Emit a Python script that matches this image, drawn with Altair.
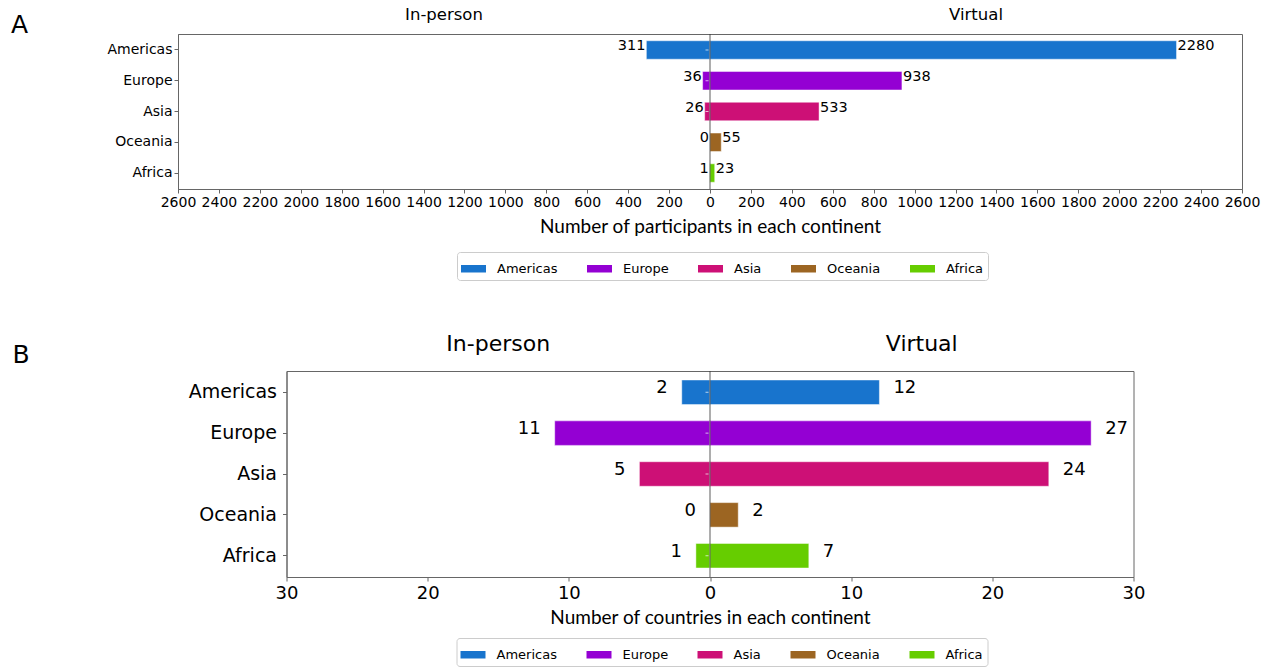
import altair as alt
import pandas as pd

# Continents in display order and their bar colours
continents = ["Americas", "Europe", "Asia", "Oceania", "Africa"]
continent_colors = ["#1874CD", "#9400D3", "#CD1076", "#9C6522", "#66CD00"]

# Panel A: participants per continent
participants_in_person = [311, 36, 26, 0, 1]
participants_virtual = [2280, 938, 533, 55, 23]

# Panel B: countries per continent
countries_in_person = [2, 11, 5, 0, 1]
countries_virtual = [12, 27, 24, 2, 7]

mode_titles = ["In-person", "Virtual"]
participant_ticks = list(range(-2600, 2601, 200))
country_ticks = list(range(-30, 31, 10))

FRAME = "#666666"


def long_table(in_person, virtual):
    rows = []
    for name, a, b in zip(continents, in_person, virtual):
        rows.append({"continent": name, "mode": "In-person", "count": a, "pos": -a})
        rows.append({"continent": name, "mode": "Virtual", "count": b, "pos": b})
    return pd.DataFrame(rows)


def panel(df, limit, ticks, x_title, letter, st):
    color = alt.Color(
        "continent:N",
        scale=alt.Scale(domain=continents, range=continent_colors),
        legend=alt.Legend(
            orient="none", legendX=st["legend_x"], legendY=st["legend_y"],
            direction="horizontal", title=None,
            symbolType="M-1,-0.3H1V0.3H-1Z", symbolSize=625,
            symbolStrokeWidth=0, symbolOpacity=1,
            labelFont="DejaVu Sans", labelFontSize=13, labelColor="black",
            labelOffset=11, columnPadding=29, padding=4,
            strokeColor="#cccccc", fillColor="white", cornerRadius=3,
        ),
        sort=continents,
    )
    y = alt.Y(
        "continent:N", sort=continents,
        scale=alt.Scale(paddingInner=0.4, paddingOuter=0.22),
        axis=alt.Axis(
            title=None, labelFont="DejaVu Sans", labelFontSize=st["ylab"],
            labelColor="black", tickColor=FRAME, tickSize=4,
            labelPadding=st["ylab_pad"], domainColor=FRAME,
        ),
    )
    x = alt.X(
        "pos:Q",
        scale=alt.Scale(domain=[-limit, limit], nice=False),
        axis=alt.Axis(
            values=ticks, labelExpr="abs(datum.value)", grid=False,
            labelFont="DejaVu Sans", labelFontSize=st["xlab"], labelColor="black",
            labelFlush=False, labelOverlap=False, labelPadding=st["lab_pad"],
            tickColor=FRAME, tickSize=4, domainColor=FRAME,
            title=x_title, titleFont="Lato", titleFontSize=st["title_size"],
            titleFontWeight="normal", titleColor="black",
            titlePadding=st["title_pad"],
        ),
    )

    base = alt.Chart(df)
    bars = base.mark_bar(stroke="white", strokeOpacity=0.45, strokeWidth=1).encode(
        x=x, y=y, color=color
    )
    left_labels = base.transform_filter(alt.datum.mode == "In-person").mark_text(
        align="right", baseline="alphabetic", dx=-st["label_dx"], dy=st["label_dy"],
        font="DejaVu Sans", fontSize=st["val"], color="black",
    ).encode(x="pos:Q", y=alt.Y("continent:N", sort=continents), text="count:Q")
    right_labels = base.transform_filter(alt.datum.mode == "Virtual").mark_text(
        align="left", baseline="alphabetic", dx=st["label_dx"], dy=st["label_dy"],
        font="DejaVu Sans", fontSize=st["val"], color="black",
    ).encode(x="pos:Q", y=alt.Y("continent:N", sort=continents), text="count:Q")

    dashes = base.transform_filter(alt.datum.mode == "Virtual").mark_tick(
        orient="horizontal", color="white", size=3, thickness=1, xOffset=-3
    ).encode(x=alt.datum(0), y=alt.Y("continent:N", sort=continents))

    zero = alt.Chart(pd.DataFrame({"pos": [0]})).mark_rule(
        color="#333333", opacity=0.8, strokeWidth=1
    ).encode(x="pos:Q")

    heads = alt.Chart(
        pd.DataFrame({"pos": [-limit / 2, limit / 2], "label": mode_titles})
    ).mark_text(
        baseline="alphabetic", font="DejaVu Sans", fontSize=st["head"], color="black"
    ).encode(x="pos:Q", y=alt.value(st["head_y"]), text="label:N")

    tag = alt.Chart(pd.DataFrame({"tag": [letter]})).mark_text(
        align="left", baseline="alphabetic", font="DejaVu Sans",
        fontSize=25, color="black",
    ).encode(x=alt.value(st["tag_x"]), y=alt.value(st["tag_y"]), text="tag:N")

    return alt.layer(bars, zero, dashes, left_labels, right_labels, heads, tag).properties(
        width=st["w"], height=st["h"]
    )


panel_a = panel(
    long_table(participants_in_person, participants_virtual), 2600,
    participant_ticks, "Number of participants in each continent", "A",
    dict(w=1064, h=155, ylab=14, ylab_pad=2, xlab=14, val=14.5, head=16.5,
         head_y=-14.5, label_dx=1, label_dy=0, lab_pad=2, title_size=19,
         title_pad=8, legend_x=279, legend_y=218, tag_x=-167, tag_y=-1),
)
panel_b = panel(
    long_table(countries_in_person, countries_virtual), 30,
    country_ticks, "Number of countries in each continent", "B",
    dict(w=847, h=206, ylab=19, ylab_pad=6, xlab=18, val=18, head=22,
         head_y=-20, label_dx=14, label_dy=1, lab_pad=3, title_size=19,
         title_pad=6, legend_x=170, legend_y=267, tag_x=-274, tag_y=-8),
)

chart = (
    alt.vconcat(panel_a, panel_b, spacing=182, center=True, bounds="flush")
    .resolve_scale(color="independent", x="independent", y="independent")
    .resolve_legend(color="independent")
    .configure_view(stroke=FRAME, strokeWidth=1)
    .properties(padding={"left": 10, "top": 6, "right": 5, "bottom": 5},
                background="white")
)

chart.save("out.html", embed_options={"renderer": "svg", "actions": False})
